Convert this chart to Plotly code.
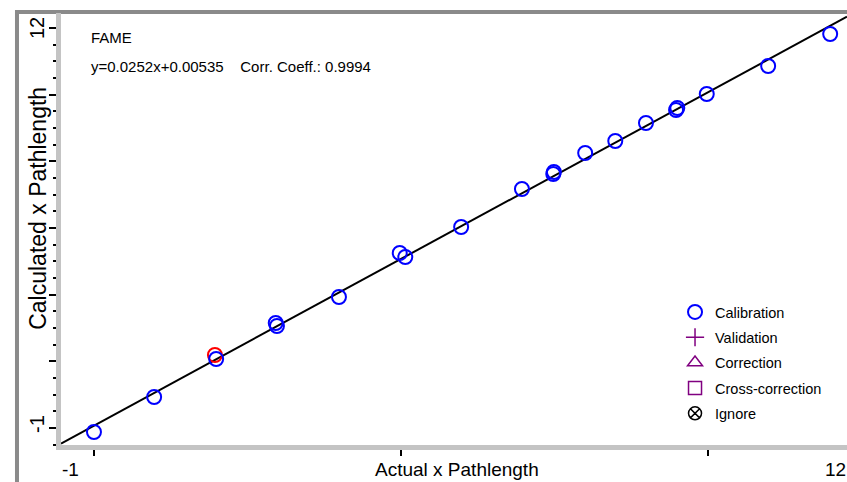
import numpy as np
import plotly.graph_objects as go

# ---------------- data ----------------
actual = [0.00, 0.98, 1.99, 2.96, 2.98, 3.99, 4.98, 5.07, 5.98, 6.97, 7.48, 7.49,
          8.00, 8.49, 8.99, 9.48, 9.50, 9.98, 10.98, 11.99]
calculated = [-0.12, 0.93, 2.07, 3.15, 3.06, 3.93, 5.25, 5.13, 6.03, 7.17, 7.62, 7.68,
              8.25, 8.61, 9.15, 9.54, 9.60, 10.02, 10.86, 11.82]
sel_actual = [1.97]
sel_calculated = [2.19]

legend_names = ["Validation", "Correction", "Cross-correction", "Ignore"]
legend_symbols = ["cross-thin-open", "triangle-up-open", "square-open", "circle-x-open"]
legend_colors = ["#800080", "#800080", "#800080", "#000000"]

x_range = [-0.537, 12.264]
y_range = [-0.51, 12.45]
x_ticks = [0, 5, 10]
y_ticks = [0, 2, 4, 6, 8, 10, 12]
x_end_labels = ["-1", "12"]
y_end_labels = ["-1", "12"]
x_title = "Actual x Pathlength"
y_title = "Calculated x Pathlength"
title_text = "FAME"
eq_text = "y=0.0252x+0.00535\u00a0\u00a0\u00a0\u00a0Corr. Coeff.: 0.9994"

SANS = "Liberation Sans, Arial"

# regression line from data
slope, intercept = np.polyfit(actual, calculated, 1)
lx = np.array(x_range)
ly = slope * lx + intercept

fig = go.Figure()
fig.add_trace(go.Scatter(x=lx, y=ly, mode="lines", line=dict(color="black", width=2),
                         showlegend=False, hoverinfo="skip"))
fig.add_trace(go.Scatter(x=sel_actual, y=sel_calculated, mode="markers",
                         marker=dict(symbol="circle-open", size=14, color="#ff0000",
                                     line=dict(width=2)),
                         showlegend=False))
fig.add_trace(go.Scatter(x=actual, y=calculated, mode="markers", name="Calibration",
                         legendgroup="g0",
                         marker=dict(symbol="circle-open", size=14, color="#0000ff",
                                     line=dict(width=2))))
for i, (n, s, c) in enumerate(zip(legend_names, legend_symbols, legend_colors)):
    fig.add_trace(go.Scatter(x=[None], y=[None], mode="markers", name=n,
                             legendgroup="g%d" % (i + 1),
                             marker=dict(symbol=s, size=13, color=c, line=dict(width=1.5, color=c))))

fig.update_xaxes(range=x_range, showgrid=False, zeroline=False, showline=True,
                 linecolor="#c4c4c4", linewidth=5, tickvals=x_ticks, ticktext=["", "", ""],
                 ticks="outside", ticklen=6, tickcolor="black", tickwidth=1.5)
fig.update_yaxes(range=y_range, showgrid=False, zeroline=False, showline=True,
                 linecolor="#c4c4c4", linewidth=5, tickvals=y_ticks,
                 ticktext=[""] * len(y_ticks),
                 ticks="outside", ticklen=7, tickcolor="black", tickwidth=1.5,
                 minor=dict(dtick=0.5, ticks="outside", ticklen=3, tickcolor="black", tickwidth=1.5))

axis_font = dict(family=SANS, size=19, color="black")
annotations = [
    dict(x=-0.0305, y=y_ticks[0], xref="paper", yref="y", text=y_end_labels[0], textangle=-90,
         showarrow=False, font=dict(family=SANS, size=20, color="black"), xanchor="center", yanchor="middle",
         yshift=4),
    dict(x=-0.0305, y=y_ticks[-1], xref="paper", yref="y", text=y_end_labels[1], textangle=-90,
         showarrow=False, font=dict(family=SANS, size=20, color="black"), xanchor="center", yanchor="middle"),
    dict(x=0.0115, y=-0.0556, xref="paper", yref="paper", text=x_end_labels[0],
         showarrow=False, font=axis_font, xanchor="center", yanchor="middle"),
    dict(x=0.986, y=-0.0556, xref="paper", yref="paper", text=x_end_labels[1],
         showarrow=False, font=axis_font, xanchor="center", yanchor="middle"),
    dict(x=0.504, y=-0.0556, xref="paper", yref="paper", text=x_title,
         showarrow=False, font=axis_font, xanchor="center", yanchor="middle"),
    dict(x=-0.0293, y=0.549, xref="paper", yref="paper", text=y_title, textangle=-90,
         showarrow=False, font=dict(family=SANS, size=23, color="black"), xanchor="center", yanchor="middle"),
    dict(x=0.0355, y=0.943, xref="paper", yref="paper", text=title_text,
         showarrow=False, font=dict(family=SANS, size=15, color="black"), xanchor="left", yanchor="middle"),
    dict(x=0.0355, y=0.877, xref="paper", yref="paper", text=eq_text,
         showarrow=False, font=dict(family=SANS, size=15, color="black"), xanchor="left", yanchor="middle"),
]

fig.update_layout(
    width=847, height=482,
    margin=dict(l=61, r=0, t=13, b=37),
    plot_bgcolor="white", paper_bgcolor="white",
    annotations=annotations,
    shapes=[dict(type="rect", xref="paper", yref="paper", x0=-0.056, x1=1.2, y0=-0.3, y1=1.0023,
                 line=dict(color="#8a8a8a", width=4), layer="below")],
    legend=dict(x=0.7812, y=0.345, xanchor="left", yanchor="top", bgcolor="rgba(0,0,0,0)",
                font=dict(family=SANS, size=14.5, color="black"), tracegroupgap=3.5,
                itemwidth=30),
)

fig.write_html("out.html")
